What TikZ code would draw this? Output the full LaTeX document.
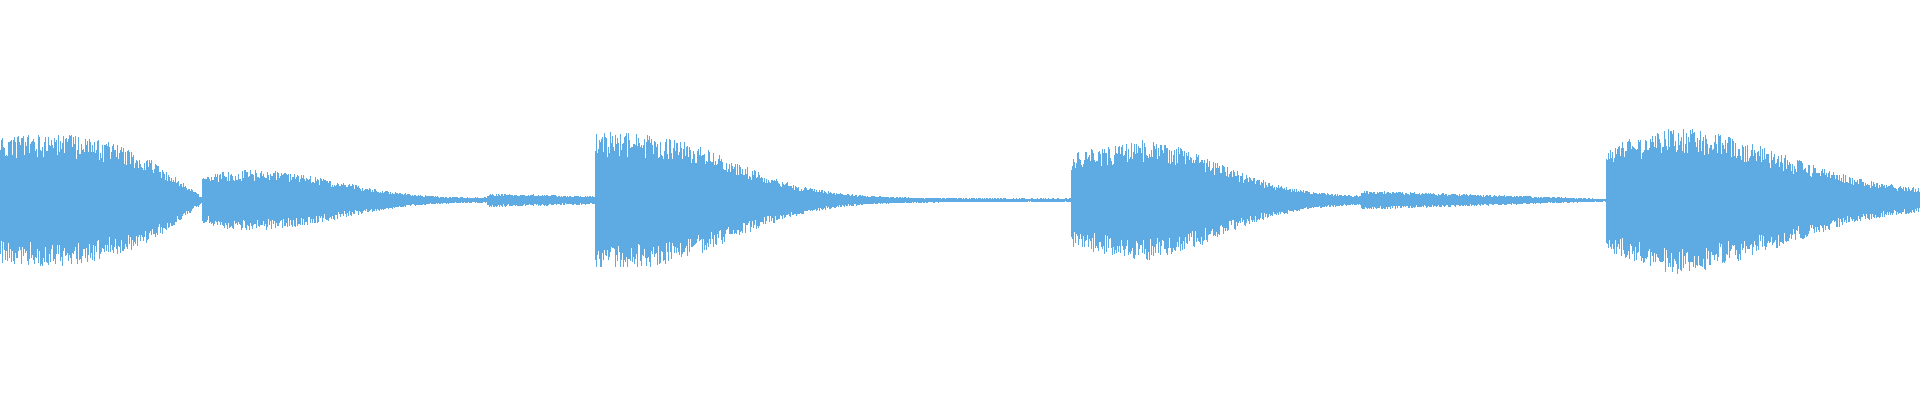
\documentclass[tikz,border=0pt]{standalone}
\definecolor{wv}{RGB}{93,171,226}
\begin{document}
\begin{tikzpicture}[x=1.2245pt,y=1.2245pt]
\useasboundingbox (0,-163.5) rectangle (1568,163.5);
\tikzset{wave/.style={draw=wv,line width=0.55pt}}
\pgfmathsetseed{7}
\newcommand\wseg[4]{%
 \draw[wave] plot[ycomb,domain=0:1,samples=#3,variable=\t] ({#1+(#2-#1)*\t},{(#4)*(0.72+0.42*rnd)});
 \draw[wave] plot[ycomb,domain=0:1,samples=#3,variable=\t] ({#1+(#2-#1)*\t},{-(#4)*(0.72+0.42*rnd)});}
\wseg{0}{165}{300}{2+43*(1-\t*\t*\t)*(1+0.1*sin(180*\t))}
\wseg{165}{398}{400}{2+21*(1-\t)*(1-\t)*(0.7+1.3*sin(180*\t))}
\wseg{398}{486}{150}{5-2*\t}
\wseg{486}{875}{650}{1.2+4*exp(-3.2*\t)+44*exp(-(max(0,\t-0.1)*3.89)*(max(0,\t-0.1)*3.89))}
\wseg{875}{1112}{420}{3+ifthenelse(\t<0.232,31+39*\t,40*exp(-((\t-0.232)*2.63)*((\t-0.232)*2.63)))}
\wseg{1112}{1312}{340}{1+6*(1-\t)}
\wseg{1312}{1568}{440}{5+ifthenelse(\t<0.1875,33+80*\t,48*exp(-((\t-0.1875)*1.97)*((\t-0.1875)*1.97)))}
\draw[wave] (0,0) -- (1568,0);
\end{tikzpicture}
\end{document}
